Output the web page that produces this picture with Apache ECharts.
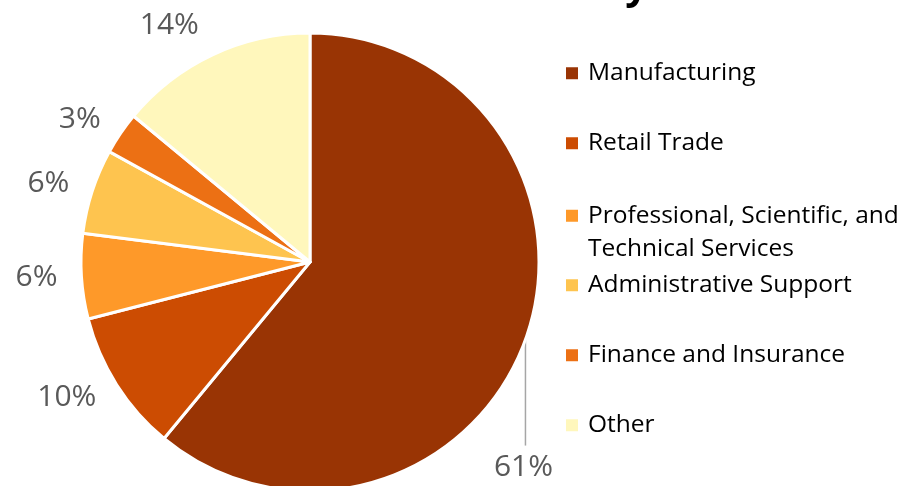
<!DOCTYPE html>
<html>
<head>
<meta charset="utf-8">
<script src="https://cdn.jsdelivr.net/npm/echarts@6/dist/echarts.min.js"></script>
<style>
  html, body { margin: 0; padding: 0; background: #fff; }
  #chart { width: 921px; height: 486px; }
</style>
</head>
<body>
<div id="chart"></div>
<script>
// data
var industries = ['Manufacturing', 'Retail Trade', 'Professional, Scientific, and Technical Services',
    'Administrative Support', 'Finance and Insurance', 'Other'];
var shares = [61, 10, 6, 6, 3, 14];
var colors = ['#993404', '#cc4c02', '#fe9929', '#fec44f', '#ec7014', '#fff7bc'];
var legendCenters = [73, 143, 215, 285, 355, 425];

var chart = echarts.init(document.getElementById('chart'));

let pieData = industries.map(function (name, i) {
    return { name: name, value: shares[i], itemStyle: { color: colors[i] } };
});
// only the big slice gets a leader line
pieData[0].labelLine = { show: true };
// the top label sits a little further out
pieData[5].labelLine = { length: 32 };

let legends = industries.map(function (name, i) {
    let twoLine = name.indexOf('Professional') === 0;
    return {
        orient: 'vertical',
        left: 566,
        top: twoLine ? legendCenters[i] - 49.5 : legendCenters[i] - 16.5,
        padding: 0,
        itemWidth: 12,
        itemHeight: 12,
        icon: 'rect',
        selectedMode: false,
        itemStyle: { borderWidth: 0 },
        data: [name],
        formatter: function (n) {
            // empty first line so the icon sits next to the first text line
            return n === industries[2] ? '\nProfessional, Scientific, and\nTechnical Services' : n;
        },
        textStyle: {
            fontFamily: 'Open Sans',
            fontSize: 24.5,
            lineHeight: 33.5,
            color: '#000',
            padding: [0, 0, 0, 5]
        }
    };
});

chart.setOption({
    animation: false,
    title: {
        text: 'Industry',
        right: 268,
        top: -37,
        textStyle: { fontFamily: 'Open Sans', fontWeight: 'bold', fontSize: 40, color: '#000' }
    },
    legend: legends,
    series: [
        {
            type: 'pie',
            center: [310, 262],
            radius: 229,
            startAngle: 90,
            clockwise: true,
            percentPrecision: 0,
            avoidLabelOverlap: false,
            itemStyle: { borderColor: '#fff', borderWidth: 3 },
            label: {
                show: true,
                position: 'outside',
                formatter: '{d}%',
                overflow: 'none',
                distanceToLabelLine: 0,
                fontFamily: 'Open Sans',
                fontSize: 30,
                color: '#595959'
            },
            labelLine: {
                show: false,
                length: 24,
                length2: 0,
                lineStyle: { color: '#a6a6a6', width: 1.5 }
            },
            labelLayout: function (params) {
                if (params.dataIndex !== 0) return {};
                let p = params.labelLinePoints[0];
                return {
                    x: p[0] - 2,
                    y: p[1] + 128,
                    align: 'center',
                    verticalAlign: 'middle',
                    labelLinePoints: [[p[0], p[1]], [p[0], p[1] + 53], [p[0], p[1] + 106]]
                };
            },
            emphasis: { disabled: true },
            data: pieData
        }
    ]
});
</script>
</body>
</html>
